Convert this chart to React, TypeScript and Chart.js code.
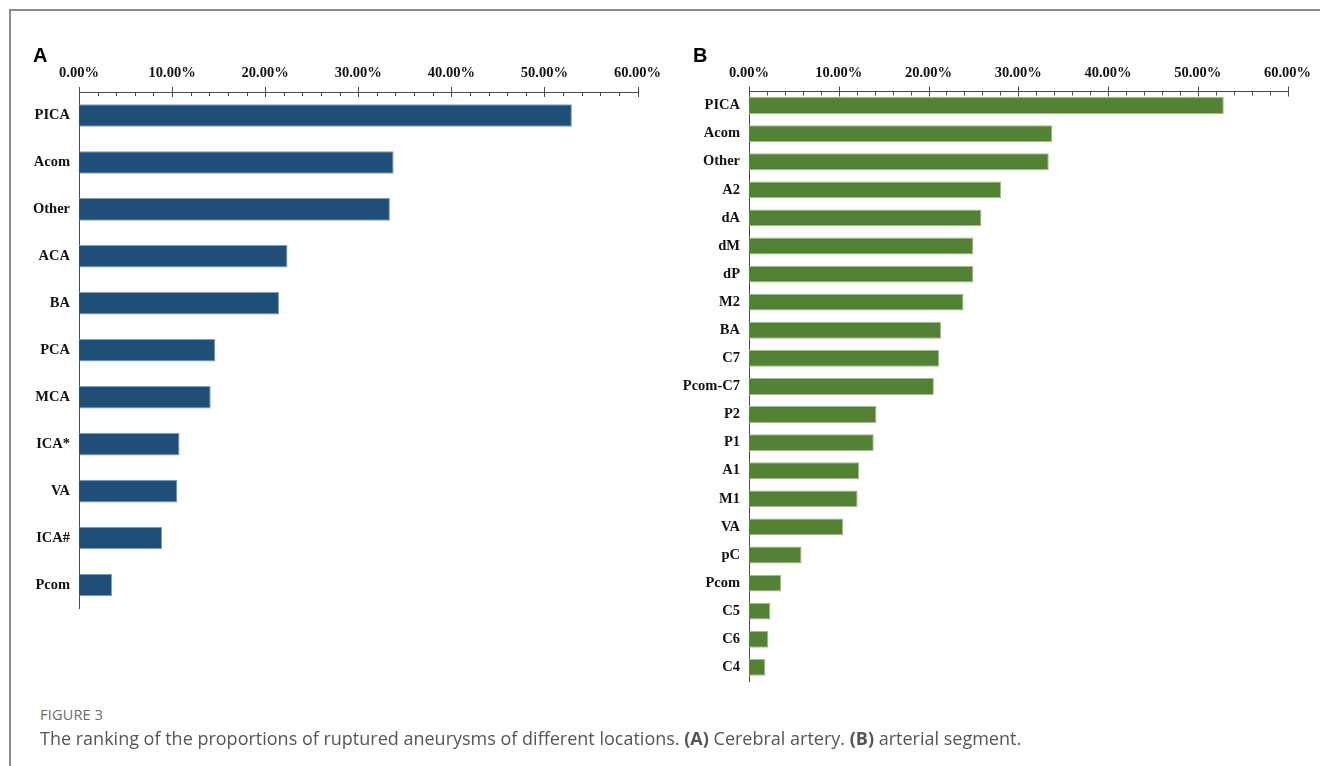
import React, { useEffect, useRef } from "react";
import { Chart, registerables } from "chart.js";

Chart.register(...registerables);

const categoriesA = ["PICA", "Acom", "Other", "ACA", "BA", "PCA", "MCA", "ICA*", "VA", "ICA#", "Pcom"];
const valuesA = [52.95, 33.8, 33.4, 22.4, 21.5, 14.65, 14.15, 10.8, 10.57, 8.92, 3.55];

const categoriesB = ["PICA", "Acom", "Other", "A2", "dA", "dM", "dP", "M2", "BA", "C7", "Pcom-C7", "P2", "P1", "A1", "M1", "VA", "pC", "Pcom", "C5", "C6", "C4"];
const valuesB = [52.9, 33.8, 33.4, 28.1, 25.9, 25.0, 25.0, 23.9, 21.4, 21.2, 20.6, 14.2, 13.9, 12.27, 12.1, 10.5, 5.85, 3.57, 2.38, 2.16, 1.82];

const axisMin = 0;
const axisMax = 60;
const majorStep = 10;
const minorStep = 2;

const AXIS_COLOR = "#4a4a4a";

const tickMarksPlugin = {
  id: "tickMarks",
  afterDraw(chart: any) {
    const { ctx, chartArea, scales } = chart;
    const x = scales.x;
    const y0 = chartArea.top;
    ctx.save();
    ctx.strokeStyle = AXIS_COLOR;
    ctx.lineWidth = 1;
    for (let v = axisMin; v <= axisMax + 1e-9; v += minorStep) {
      const px = Math.round(x.getPixelForValue(v)) + 0.5;
      const major = Math.abs(v % majorStep) < 1e-6;
      ctx.beginPath();
      if (major) {
        ctx.moveTo(px, y0 - 5);
        ctx.lineTo(px, y0 + 5);
      } else {
        ctx.moveTo(px, y0);
        ctx.lineTo(px, y0 + 4);
      }
      ctx.stroke();
    }
    ctx.restore();
  },
};

function makeConfig(
  labels: string[],
  values: number[],
  color: string,
  border: string,
  barPct: number,
  yWidth: number,
  xHeight: number,
  padding: any
): any {
  return {
    type: "bar",
    data: {
      labels,
      datasets: [
        {
          data: values,
          backgroundColor: color,
          borderColor: border,
          borderWidth: 1,
          barPercentage: barPct,
          categoryPercentage: 1,
        },
      ],
    },
    options: {
      indexAxis: "y",
      animation: false,
      responsive: false,
      maintainAspectRatio: false,
      layout: { padding },
      plugins: {
        legend: { display: false },
        tooltip: { enabled: false },
      },
      scales: {
        x: {
          position: "top",
          min: axisMin,
          max: axisMax,
          grid: { display: false, drawTicks: false },
          border: { display: true, color: AXIS_COLOR, width: 1 },
          ticks: {
            stepSize: majorStep,
            padding: 10,
            color: "#111111",
            font: { family: "'Liberation Serif', 'Times New Roman', serif", weight: "bold", size: 14.5 },
            callback: (v: any) => Number(v).toFixed(2) + "%",
          },
          afterFit: (s: any) => {
            s.height = xHeight;
          },
        },
        y: {
          grid: { display: false, drawTicks: false },
          border: { display: true, color: AXIS_COLOR, width: 1 },
          ticks: {
            padding: 9,
            color: "#111111",
            font: { family: "'Liberation Serif', 'Times New Roman', serif", weight: "bold", size: 14.5 },
          },
          afterFit: (s: any) => {
            s.width = yWidth;
          },
        },
      },
    },
    plugins: [tickMarksPlugin],
  };
}

function BarPanel(props: { cfg: any; left: number; top: number; width: number; height: number }) {
  const ref = useRef<HTMLCanvasElement | null>(null);
  useEffect(() => {
    if (!ref.current) return;
    const chart = new Chart(ref.current, props.cfg);
    return () => chart.destroy();
  }, []);
  return (
    <canvas
      ref={ref}
      width={props.width}
      height={props.height}
      style={{ position: "absolute", left: props.left, top: props.top, width: props.width, height: props.height }}
    />
  );
}

export default function App() {
  const cfgA = makeConfig(categoriesA, valuesA, "#1f4e79", "#7f9fc0", 0.48, 79, 92, {
    left: 0,
    top: 0,
    right: 690 - 637.5,
    bottom: 650 - 608.5,
  });
  const cfgB = makeConfig(categoriesB, valuesB, "#548235", "#9cc184", 0.6, 84, 91.5, {
    left: 0,
    top: 0,
    right: 690 - 622.5,
    bottom: 730 - 681.4,
  });
  const sans = "'Liberation Sans', Arial, sans-serif";
  const cap = "'Open Sans', 'Noto Sans', sans-serif";
  return (
    <div style={{ position: "fixed", left: 0, top: 0, width: 1320, height: 766, background: "#ffffff", overflow: "hidden" }}>
      <div
        style={{
          position: "absolute",
          left: 9,
          top: 9,
          width: 1400,
          height: 800,
          borderTop: "2px solid #8c8c8c",
          borderLeft: "2px solid #8c8c8c",
        }}
      />
      <BarPanel cfg={cfgA} left={0} top={0} width={690} height={650} />
      <BarPanel cfg={cfgB} left={665} top={0} width={690} height={730} />
      <div style={{ position: "absolute", left: 33, top: 44, font: `bold 20px ${sans}`, color: "#000" }}>A</div>
      <div style={{ position: "absolute", left: 693, top: 44, font: `bold 20px ${sans}`, color: "#000" }}>B</div>
      <div style={{ position: "absolute", left: 40, top: 705, font: `14.5px ${cap}`, color: "#6b6b6b", letterSpacing: 0.2 }}>
        FIGURE 3
      </div>
      <div style={{ position: "absolute", left: 40, top: 726, font: `18px ${cap}`, color: "#555555", whiteSpace: "nowrap" }}>
        The ranking of the proportions of ruptured aneurysms of different locations. <b style={{ fontWeight: 700 }}>(A)</b> Cerebral
        artery. <b style={{ fontWeight: 700 }}>(B)</b> arterial segment.
      </div>
    </div>
  );
}
